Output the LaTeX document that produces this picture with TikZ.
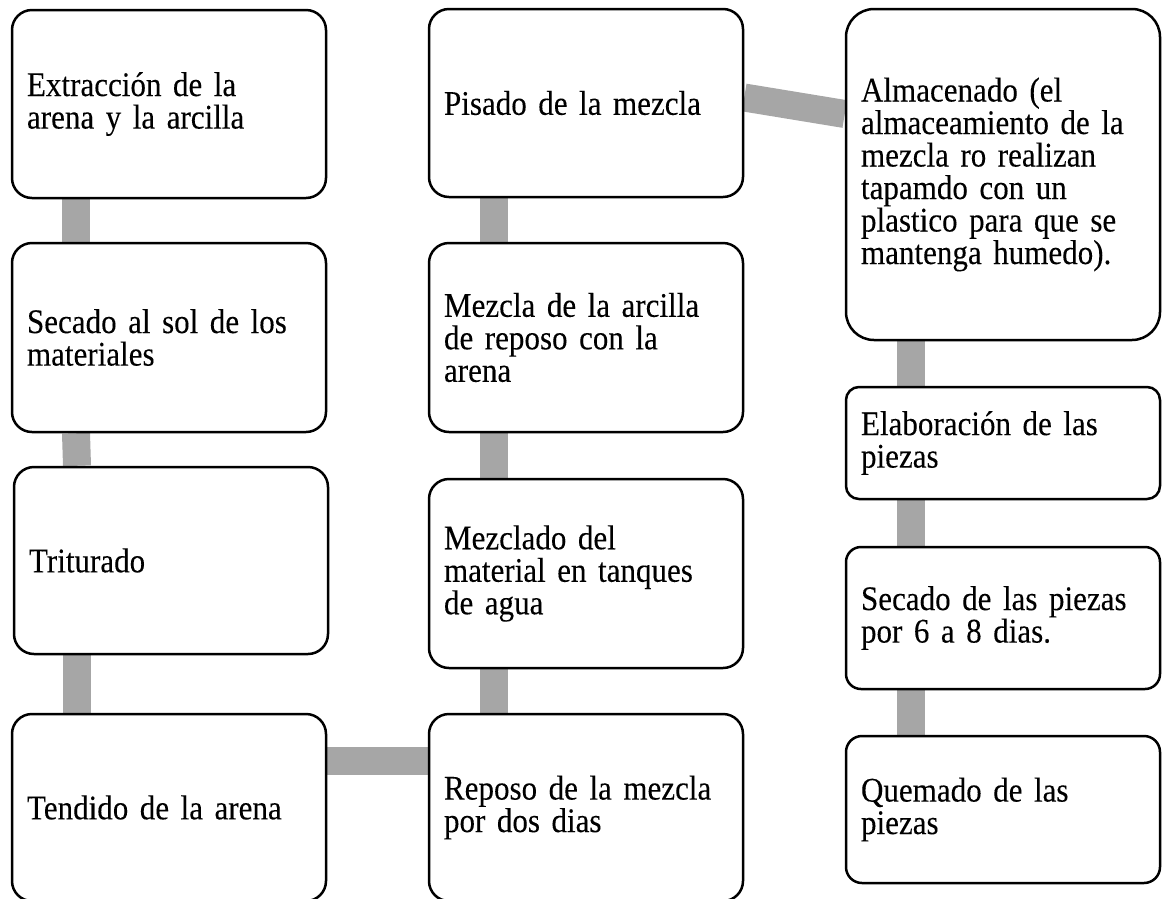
\documentclass[tikz,border=0pt]{standalone}
\usepackage{fontspec}
\setmainfont{Liberation Serif}[FakeStretch=0.9,FakeBold=0.12]
\usetikzlibrary{backgrounds}
\definecolor{conngray}{HTML}{A6A6A6}
\tikzset{
  box/.style={draw=black, line width=2.5pt, fill=white, rounded corners=20pt,
    align=left, text width=284pt, inner xsep=15pt, inner ysep=0pt,
    font=\fontsize{34.5}{32.5}\selectfont},
  conn/.style={draw=conngray, line width=28pt}
}
\begin{document}
\begin{tikzpicture}[x=1pt,y=-1pt]
\useasboundingbox (0,0) rectangle (1165,898);
% column 1
\node[box, minimum height=188pt] (a1) at (169,104) {Extracción de la\\arena y la arcilla};
\node[box, minimum height=189pt] (a2) at (169,337.5) {Secado al sol de los\\materiales};
\node[box, minimum height=187pt] (a3) at (171,560.5) {Triturado};
\node[box, minimum height=187pt] (a4) at (169,807.5) {Tendido de la arena};
% column 2
\node[box, minimum height=188pt] (b1) at (586,103) {Pisado de la mezcla};
\node[box, minimum height=189pt] (b2) at (586,337.5) {Mezcla de la arcilla\\de reposo con la\\arena};
\node[box, minimum height=189pt] (b3) at (586,573.5) {Mezclado del\\material en tanques\\de agua};
\node[box, minimum height=187pt] (b4) at (586,807.5) {Reposo de la mezcla\\por dos dias};
% column 3
\node[box, minimum height=331pt, rounded corners=28pt] (c1) at (1003,174.5) {Almacenado (el\\almaceamiento de la\\mezcla ro realizan\\tapamdo con un\\plastico para que se\\mantenga humedo).};
\node[box, minimum height=112pt, rounded corners=13pt] (c2) at (1003,443) {Elaboración de las\\piezas};
\node[box, minimum height=142pt, rounded corners=15pt] (c3) at (1003,618) {Secado de las piezas\\por 6 a 8 dias.};
\node[box, minimum height=147pt, rounded corners=16pt] (c4) at (1003,809.5) {Quemado de las\\piezas};
\begin{pgfonlayer}{background}
\draw[conn] ([xshift=-93pt]a1.south) -- ([xshift=-93pt]a2.north);
\draw[conn] ([xshift=-93pt]a2.south) -- ([xshift=-94pt]a3.north);
\draw[conn] ([xshift=-94pt]a3.south) -- ([xshift=-92pt]a4.north);
\draw[conn] ([yshift=46.5pt]a4.east) -- ([yshift=46.5pt]b4.west);
\draw[conn] ([xshift=-92pt]b4.north) -- ([xshift=-92pt]b3.south);
\draw[conn] ([xshift=-92pt]b3.north) -- ([xshift=-92pt]b2.south);
\draw[conn] ([xshift=-92pt]b2.north) -- ([xshift=-92pt]b1.south);
\draw[conn] ([yshift=5.5pt]b1.east) -- ([yshift=60.5pt]c1.west);
\draw[conn] ([xshift=-92.5pt]c1.south) -- ([xshift=-92.5pt]c2.north);
\draw[conn] ([xshift=-92.5pt]c2.south) -- ([xshift=-92.5pt]c3.north);
\draw[conn] ([xshift=-92.5pt]c3.south) -- ([xshift=-92.5pt]c4.north);
\end{pgfonlayer}
\end{tikzpicture}
\end{document}
